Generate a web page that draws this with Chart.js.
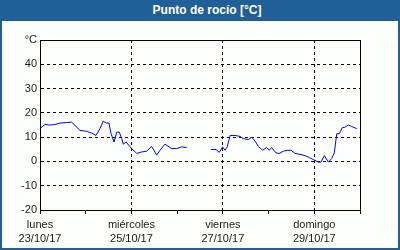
<!DOCTYPE html>
<html>
<head>
<meta charset="utf-8">
<script src="https://cdn.jsdelivr.net/npm/chart.js@4.4.1/dist/chart.umd.min.js"></script>
<style>
  body { margin: 0; background: #fcfffc; }
  #wrap { position: relative; width: 400px; height: 250px; }
  #myChart { position: absolute; left: 0; top: 0; }
  #frame { position: absolute; left: 0; top: 0; width: 396px; height: 248px; border: 2px solid #215f97; border-top: 0; }
  #head { position: absolute; left: 0; top: 0; width: 400px; height: 21px; background: #215f97;
          color: #fff; font: bold 12px "Liberation Sans", sans-serif; text-align: center; line-height: 21px; text-indent: 14px; }
</style>
</head>
<body>
<div id="wrap">
  <canvas id="myChart" width="400" height="250"></canvas>
  <div id="frame"></div>
  <div id="head">Punto de rocío [°C]</div>
</div>
<script>
// hours since lunes 23/10/17 00:00
const hours = [0.5, 2.6, 5.3, 7.9, 10.5, 14, 16.6, 18.4, 21, 24.5, 27.1, 29.4, 31.5, 33.2, 34.7, 36.2, 37.3, 38.9,
  40.3, 41.6, 42.9, 43.7, 45.2, 48.1, 50.8, 53.4, 56, 58.6, 61.3, 63, 65.6, 69.1, 71.8, 74.4, 77,
  83,
  89.8, 92.4, 94.1, 95.9, 97.1, 98.3, 99.8, 102.4, 105, 106.7, 109.4, 111.1, 112.9, 114.6, 116.9, 119,
  120.4, 121.6, 123.9, 125.6, 127.7, 129.8, 131.8, 133.9, 136.5, 139.1, 141.4, 143.5, 146.1, 147.5,
  149.3, 151.4, 153.1, 154.5, 155.8, 157.1, 158.7, 160.1, 161.9, 163.6, 166.3]
const dewPoint = [13.9, 15.2, 15, 15.2, 15.8, 16, 16.2, 14.8, 12.8, 12.4, 11.7, 10.7, 13.5, 16.6, 15.8, 15.8, 11.4, 8,
  12.1, 12.1, 9.4, 7.1, 8, 5.3, 3.3, 3.9, 4.2, 6.2, 2.6, 4.6, 7.1, 5.3, 5.3, 6, 5.7,
  null,
  4.9, 4.9, 3.7, 6, 4.6, 6, 10.7, 10.7, 10.3, 9.4, 9, 10, 8.4, 6.2, 4.6, 5.7,
  4.6, 5.7, 3.5, 3.3, 4.2, 4.6, 4.6, 3.3, 2.9, 2.4, 1.6, 0.8, -0.3, -0.3,
  2.4, -0.3, 1.2, 3.5, 11.4, 11.4, 13.9, 14.1, 15, 14.4, 13.5]

const dayNames = ['lunes', 'martes', 'miércoles', 'jueves', 'viernes', 'sábado', 'domingo', 'lunes']
const dates = ['23/10/17', '24/10/17', '25/10/17', '26/10/17', '27/10/17', '28/10/17', '29/10/17', '30/10/17']

const txt = '#1a1a1a'
const fnt = { family: 'Liberation Sans', size: 11, lineHeight: 1.27 }

const frame = {
  id: 'frame',
  afterDraw(chart) {
    const a = chart.chartArea, c = chart.ctx
    c.save()
    c.strokeStyle = '#000'
    c.lineWidth = 1
    c.strokeRect(a.left + 0.5, a.top + 0.5, a.right - a.left, a.bottom - a.top)
    c.restore()
  }
}

new Chart('myChart', {
  type: 'line',
  data: {
    datasets: [{
      data: hours.map((h, i) => ({ x: h, y: dewPoint[i] })),
      borderColor: '#0000ff',
      borderWidth: 1,
      pointRadius: 0,
      tension: 0,
      spanGaps: false
    }]
  },
  options: {
    responsive: false,
    animation: false,
    layout: { padding: { top: 40, right: 40, left: 0, bottom: 0 } },
    plugins: { legend: { display: false }, tooltip: { enabled: false } },
    scales: {
      x: {
        type: 'linear', min: 0, max: 168,
        afterFit: s => { s.height = 40 },
        ticks: {
          stepSize: 24, autoSkip: false, maxRotation: 0, padding: 4, color: txt, font: fnt,
          callback: v => (v % 48 === 0 && v < 168) ? [dayNames[v / 24], dates[v / 24]] : ''
        },
        grid: {
          color: c => (c.tick && c.tick.value % 48 === 0 && c.tick.value > 0 && c.tick.value < 168) ? '#000' : 'rgba(0,0,0,0)',
          tickColor: '#000', tickLength: 4, tickBorderDash: []
        },
        border: { color: '#000', dash: [3, 3] }
      },
      y: {
        min: -20, max: 50,
        afterFit: s => { s.width = 40 },
        ticks: {
          stepSize: 10, padding: 3, color: txt, font: fnt,
          callback: v => v === 50 ? '°C' : v
        },
        grid: {
          color: c => (c.tick && c.tick.value > -20 && c.tick.value < 50) ? '#000' : 'rgba(0,0,0,0)',
          drawTicks: false
        },
        border: { color: '#000', dash: [3, 3] }
      }
    }
  },
  plugins: [frame]
});
</script>
</body>
</html>
